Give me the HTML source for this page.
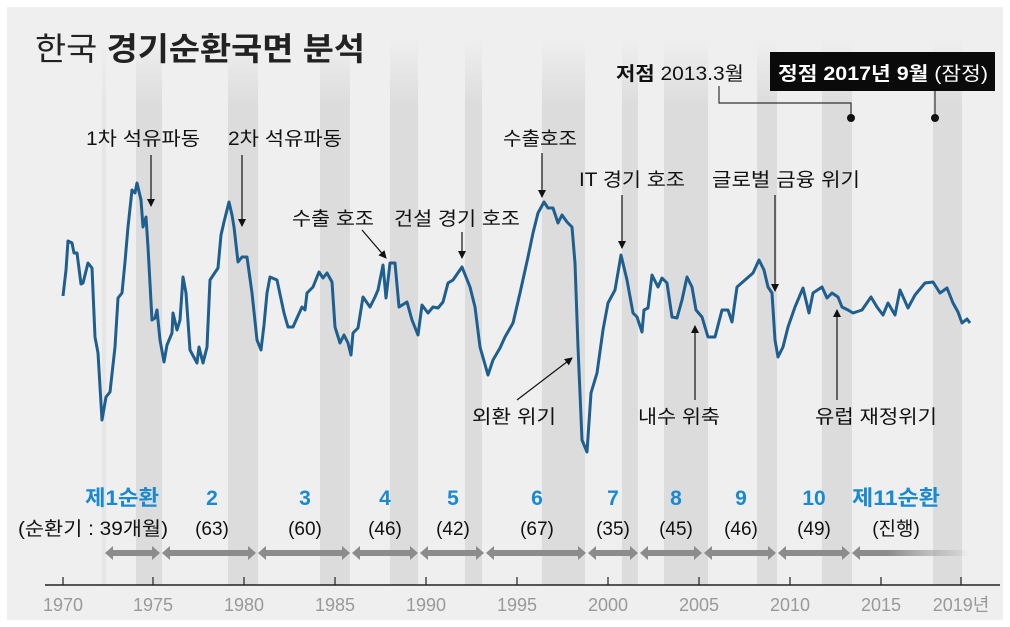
<!DOCTYPE html>
<html><head><meta charset="utf-8"><style>
body{margin:0;background:#fff}
svg{display:block}
text{font-family:"Liberation Sans","Noto Sans CJK KR",sans-serif}
</style></head><body>
<svg width="1010" height="627" viewBox="0 0 1010 627" xmlns="http://www.w3.org/2000/svg">
<defs>
<linearGradient id="bf" x1="0" y1="0" x2="0" y2="1">
<stop offset="0" stop-color="#dcdcdc" stop-opacity="0"/>
<stop offset="0.12" stop-color="#dcdcdc" stop-opacity="1"/>
<stop offset="1" stop-color="#dcdcdc"/>
</linearGradient>
<linearGradient id="af" x1="0" y1="0" x2="1" y2="0">
<stop offset="0" stop-color="#8c8c8c"/>
<stop offset="0.3" stop-color="#8c8c8c"/>
<stop offset="1" stop-color="#8c8c8c" stop-opacity="0"/>
</linearGradient>
<marker id="ah" markerWidth="8" markerHeight="8" refX="7" refY="4" orient="auto" markerUnits="userSpaceOnUse"><path d="M0,0 L8,4 L0,8 z" fill="#111"/></marker>
</defs>
<rect x="7" y="7" width="996" height="613" fill="#efefef"/>
<g fill="url(#bf)">
<rect x="102" y="40" width="4" height="545" opacity="0.5"/>
<rect x="136" y="40" width="26" height="545"/>
<rect x="228" y="40" width="30" height="545"/>
<rect x="320" y="40" width="30" height="545"/>
<rect x="390" y="40" width="28" height="545"/>
<rect x="465" y="40" width="17" height="545"/>
<rect x="542" y="40" width="43" height="545"/>
<rect x="622" y="40" width="16" height="545"/>
<rect x="664" y="40" width="44" height="545"/>
<rect x="757" y="40" width="20" height="545"/>
<rect x="822" y="40" width="30" height="545"/>
<rect x="933" y="40" width="29" height="545"/>
</g>
<text x="35" y="60" font-size="32" fill="#222" textLength="330" lengthAdjust="spacingAndGlyphs"><tspan font-weight="normal">한국 </tspan><tspan font-weight="bold">경기순환국면 분석</tspan></text>
<text x="616" y="80" font-size="19" fill="#111" textLength="128" lengthAdjust="spacingAndGlyphs"><tspan font-weight="bold">저점</tspan> 2013.3월</text>
<rect x="770" y="52" width="225" height="39" fill="#0a0a0a"/>
<text x="778" y="80" font-size="19" fill="#fff" textLength="210" lengthAdjust="spacingAndGlyphs"><tspan font-weight="bold">정점 2017년 9월</tspan> (잠정)</text>
<polyline points="719,86 719,103 851,103 851,118" fill="none" stroke="#333" stroke-width="1.2"/>
<line x1="935" y1="91" x2="935" y2="118" stroke="#333" stroke-width="1.2"/>
<circle cx="851" cy="118" r="4" fill="#111"/><circle cx="935" cy="118" r="4" fill="#111"/>
<g font-size="19" fill="#111">
<text x="143" y="145" text-anchor="middle" textLength="114" lengthAdjust="spacingAndGlyphs">1차 석유파동</text>
<text x="285" y="145" text-anchor="middle" textLength="114" lengthAdjust="spacingAndGlyphs">2차 석유파동</text>
<text x="333" y="225" text-anchor="middle" textLength="82" lengthAdjust="spacingAndGlyphs">수출 호조</text>
<text x="457" y="225" text-anchor="middle" textLength="126" lengthAdjust="spacingAndGlyphs">건설 경기 호조</text>
<text x="540" y="145" text-anchor="middle" textLength="74" lengthAdjust="spacingAndGlyphs">수출호조</text>
<text x="632" y="186" text-anchor="middle" textLength="106" lengthAdjust="spacingAndGlyphs">IT 경기 호조</text>
<text x="786" y="186" text-anchor="middle" textLength="148" lengthAdjust="spacingAndGlyphs">글로벌 금융 위기</text>
<text x="514" y="423" text-anchor="middle" textLength="84" lengthAdjust="spacingAndGlyphs">외환 위기</text>
<text x="679" y="423" text-anchor="middle" textLength="82" lengthAdjust="spacingAndGlyphs">내수 위축</text>
<text x="876" y="423" text-anchor="middle" textLength="122" lengthAdjust="spacingAndGlyphs">유럽 재정위기</text>
</g>
<g stroke="#111" stroke-width="1.2" marker-end="url(#ah)">
<line x1="151" y1="155" x2="151" y2="206"/>
<line x1="242" y1="155" x2="242" y2="226"/>
<line x1="362" y1="230" x2="386" y2="258"/>
<line x1="462" y1="232" x2="462" y2="258"/>
<line x1="542" y1="153" x2="542" y2="197"/>
<line x1="622" y1="195" x2="622" y2="248"/>
<line x1="775" y1="195" x2="775" y2="291"/>
<line x1="517" y1="400" x2="572" y2="358"/>
<line x1="695" y1="400" x2="695" y2="326"/>
<line x1="837" y1="400" x2="837" y2="310"/>
</g>
<polyline fill="none" stroke="#1f5f8f" stroke-width="3" stroke-linejoin="round" points="63,296 66,270 68,241 72,243 74,253 77,253 81,284 83,283 88,263 92,268 95,337 98,353 102,420 106,397 110,392 115,347 118,298 122,293 125,262 128,227 132,190 135,193 137,183 141,200 143,227 146,217 148,247 152,320 155,318 157,310 160,340 164,362 167,345 172,333 173,313 177,330 180,320 183,277 186,293 190,350 197,363 199,347 203,363 207,347 210,280 218,268 221,235 224,222 229,202 232,215 234,227 238,262 242,257 247,257 252,293 257,340 261,350 264,325 267,293 270,277 277,280 284,313 288,327 293,327 297,318 302,307 305,310 307,293 313,287 319,272 323,278 327,273 332,282 335,327 340,343 344,335 348,343 351,355 353,333 358,328 363,297 370,307 375,297 378,290 383,265 386,298 390,263 395,263 399,307 407,302 412,320 418,335 422,305 428,313 433,307 438,308 443,302 448,283 453,280 462,267 470,287 475,307 480,347 488,375 493,360 500,348 505,337 513,323 520,293 528,257 533,233 538,213 544,202 548,208 553,208 558,223 562,215 567,222 572,227 575,263 578,347 582,440 587,452 591,393 597,373 603,330 608,303 615,290 621,255 627,280 633,313 637,317 642,332 644,310 648,308 652,275 658,287 662,278 667,283 672,317 677,318 682,300 687,277 692,287 696,310 702,317 708,337 715,337 722,310 728,310 732,322 737,287 745,280 753,273 759,260 764,270 768,287 772,293 775,340 778,357 783,347 788,327 795,307 803,288 809,313 813,293 822,287 827,298 832,293 838,297 842,307 848,310 853,313 862,310 871,297 877,307 883,315 888,303 895,315 900,290 908,308 915,295 925,283 933,282 940,293 947,288 953,303 958,312 962,323 967,319 970,323"/>
<g font-weight="bold" font-size="21" fill="#1a8ad0" text-anchor="middle">
<text x="122" y="505" textLength="74" lengthAdjust="spacingAndGlyphs">제1순환</text>
<text x="212" y="505">2</text><text x="305" y="505">3</text><text x="385" y="505">4</text>
<text x="453" y="505">5</text><text x="537" y="505">6</text><text x="613" y="505">7</text>
<text x="676" y="505">8</text><text x="741" y="505">9</text><text x="814" y="505">10</text>
<text x="896" y="505" textLength="88" lengthAdjust="spacingAndGlyphs">제11순환</text>
</g>
<g font-size="19" fill="#111" text-anchor="middle">
<text x="93" y="535" textLength="150" lengthAdjust="spacingAndGlyphs">(순환기 : 39개월)</text>
<text x="212" y="535">(63)</text><text x="305" y="535">(60)</text><text x="385" y="535">(46)</text>
<text x="453" y="535">(42)</text><text x="537" y="535">(67)</text><text x="613" y="535">(35)</text>
<text x="676" y="535">(45)</text><text x="741" y="535">(46)</text><text x="814" y="535">(49)</text>
<text x="896" y="535">(진행)</text>
</g>
<g fill="#8c8c8c">
<path d="M105,553 L113,546 L113,550 L152,550 L152,546 L160,553 L152,560 L152,556 L113,556 L113,560 Z"/>
<path d="M162,553 L170,546 L170,550 L248,550 L248,546 L256,553 L248,560 L248,556 L170,556 L170,560 Z"/>
<path d="M258,553 L266,546 L266,550 L342,550 L342,546 L350,553 L342,560 L342,556 L266,556 L266,560 Z"/>
<path d="M352,553 L360,546 L360,550 L410,550 L410,546 L418,553 L410,560 L410,556 L360,556 L360,560 Z"/>
<path d="M420,553 L428,546 L428,550 L476,550 L476,546 L484,553 L476,560 L476,556 L428,556 L428,560 Z"/>
<path d="M486,553 L494,546 L494,550 L578,550 L578,546 L586,553 L578,560 L578,556 L494,556 L494,560 Z"/>
<path d="M588,553 L596,546 L596,550 L630,550 L630,546 L638,553 L630,560 L630,556 L596,556 L596,560 Z"/>
<path d="M640,553 L648,546 L648,550 L694,550 L694,546 L702,553 L694,560 L694,556 L648,556 L648,560 Z"/>
<path d="M704,553 L712,546 L712,550 L768,550 L768,546 L776,553 L768,560 L768,556 L712,556 L712,560 Z"/>
<path d="M778,553 L786,546 L786,550 L842,550 L842,546 L850,553 L842,560 L842,556 L786,556 L786,560 Z"/>
</g>
<path d="M852,553 L860,546 L860,550 L970,550 L970,556 L860,556 L860,560 Z" fill="url(#af)"/>
<line x1="45" y1="585" x2="1000" y2="585" stroke="#222" stroke-width="1.5"/>
<g stroke="#222" stroke-width="1.2">
<line x1="63" y1="577" x2="63" y2="585"/><line x1="153" y1="577" x2="153" y2="585"/>
<line x1="244" y1="577" x2="244" y2="585"/><line x1="335" y1="577" x2="335" y2="585"/>
<line x1="426" y1="577" x2="426" y2="585"/><line x1="517" y1="577" x2="517" y2="585"/>
<line x1="608" y1="577" x2="608" y2="585"/><line x1="699" y1="577" x2="699" y2="585"/>
<line x1="790" y1="577" x2="790" y2="585"/><line x1="881" y1="577" x2="881" y2="585"/>
<line x1="961" y1="577" x2="961" y2="585"/>
</g>
<g font-size="18" fill="#999" text-anchor="middle">
<text x="63" y="611">1970</text><text x="153" y="611">1975</text><text x="244" y="611">1980</text>
<text x="335" y="611">1985</text><text x="426" y="611">1990</text><text x="517" y="611">1995</text>
<text x="608" y="611">2000</text><text x="699" y="611">2005</text><text x="790" y="611">2010</text>
<text x="881" y="611">2015</text><text x="961" y="611">2019년</text>
</g>
</svg>
</body></html>
